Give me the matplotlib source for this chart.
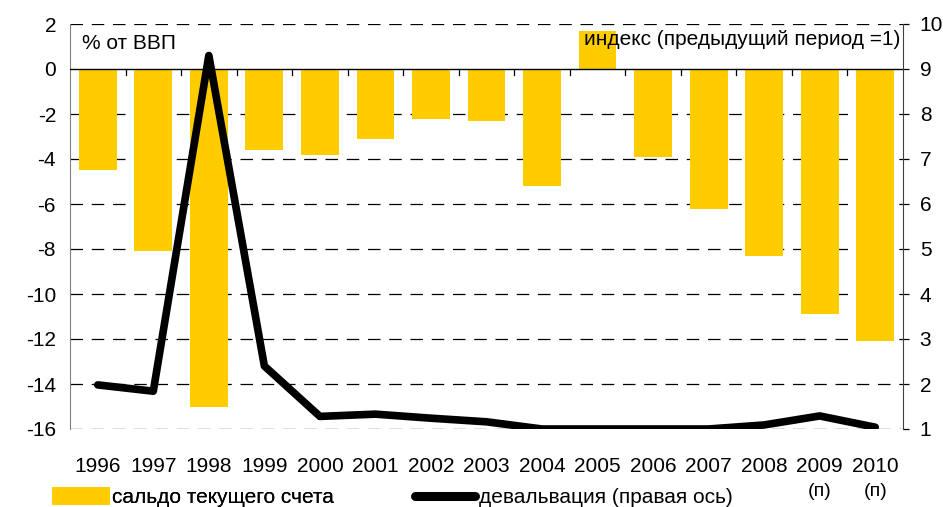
import matplotlib

matplotlib.use("Agg")
import matplotlib.pyplot as plt
import numpy as np
from matplotlib.lines import Line2D
from matplotlib.patches import Patch

plt.rcParams["font.family"] = ["Liberation Sans", "DejaVu Sans"]
plt.rcParams["axes.unicode_minus"] = False

# ---------------------------------------------------------------- data ---
years = ["1996", "1997", "1998", "1999", "2000", "2001", "2002", "2003",
         "2004", "2005", "2006", "2007", "2008", "2009", "2010"]
forecast = ["", "", "", "", "", "", "", "", "", "", "", "", "", "(п)", "(п)"]
balance = [-4.5, -8.1, -15.0, -3.6, -3.8, -3.1, -2.2, -2.3,
           -5.2, 1.7, -3.9, -6.2, -8.3, -10.9, -12.1]          # % от ВВП
devaluation = [1.98, 1.84, 9.3, 2.4, 1.28, 1.33, 1.24, 1.16,
               1.0, 1.0, 1.0, 1.0, 1.09, 1.29, 1.04]           # индекс

YELLOW = "#FFCC00"

# ---------------------------------------------------------------- plot ---
fig = plt.figure(figsize=(9.43, 5.07), dpi=100)
ax = fig.add_axes([70 / 943, 1 - 429 / 507, 833 / 943, 405 / 507])
x = np.arange(len(years))

ax.bar(x, balance, width=0.68, color=YELLOW, zorder=2)
ax.set_xlim(-0.5, len(years) - 0.5)
ax.set_ylim(-16, 2)
ax.set_yticks(np.arange(-16, 3, 2))
for yv in np.arange(-16, 3, 2):
    if yv != 0:
        ax.axhline(yv, color="black", lw=0.9, dashes=(10, 7), zorder=1)
ax.axhline(0, color="black", lw=1.0, zorder=3)

# category-boundary ticks hanging from the zero line
for b in np.arange(0.5, len(years) - 1, 1.0):
    ax.plot([b, b], [0, -0.25], color="black", lw=0.9, zorder=3)

ax.set_xticks(x)
ax.set_xticklabels(years)
ax.tick_params(axis="x", length=0, pad=20, labelsize=15)
ax.tick_params(axis="y", length=0, pad=10, labelsize=15)
for i, f in enumerate(forecast):
    if f:
        ax.text(i, -18.8, f, ha="center", va="center", fontsize=14)

for s in ["top", "bottom"]:
    ax.spines[s].set_visible(False)
ax.spines["left"].set_color("#808080")
ax.spines["right"].set_visible(False)

ax2 = ax.twinx()
ax2.plot(x, devaluation, color="black", lw=5.5, solid_capstyle="round",
         solid_joinstyle="round", zorder=4)
ax2.set_ylim(1, 10)
ax2.set_yticks(np.arange(1, 11))
ax2.tick_params(axis="y", length=4, width=0.9, pad=8, labelsize=15)
for s in ["top", "bottom", "left"]:
    ax2.spines[s].set_visible(False)
ax2.spines["right"].set_color("#404040")

ax2.text(0.015, 0.975, "% от ВВП", transform=ax2.transAxes, ha="left",
         va="top", fontsize=15)
ax2.text(0.997, 0.985, "индекс (предыдущий период =1)",
         transform=ax2.transAxes, ha="right", va="top", fontsize=15)

leg1 = fig.legend([Patch(facecolor=YELLOW, edgecolor="none")],
                  ["сальдо текущего счета"], loc="lower left",
                  bbox_to_anchor=(52 / 943, 0.0), frameon=False, fontsize=15,
                  handlelength=2.8, handleheight=1.0, handletextpad=0.1,
                  borderpad=0.0, borderaxespad=0.0)
leg2 = fig.legend([Line2D([0], [0], color="black", lw=6.5,
                          solid_capstyle="round")],
                  ["девальвация (правая ось)"], loc="lower left",
                  bbox_to_anchor=(415 / 943, 0.0), frameon=False, fontsize=15,
                  handlelength=2.9, handletextpad=0.15,
                  borderpad=0.0, borderaxespad=0.0)
fig.add_artist(leg1)

fig.savefig("out.png", dpi=100)
